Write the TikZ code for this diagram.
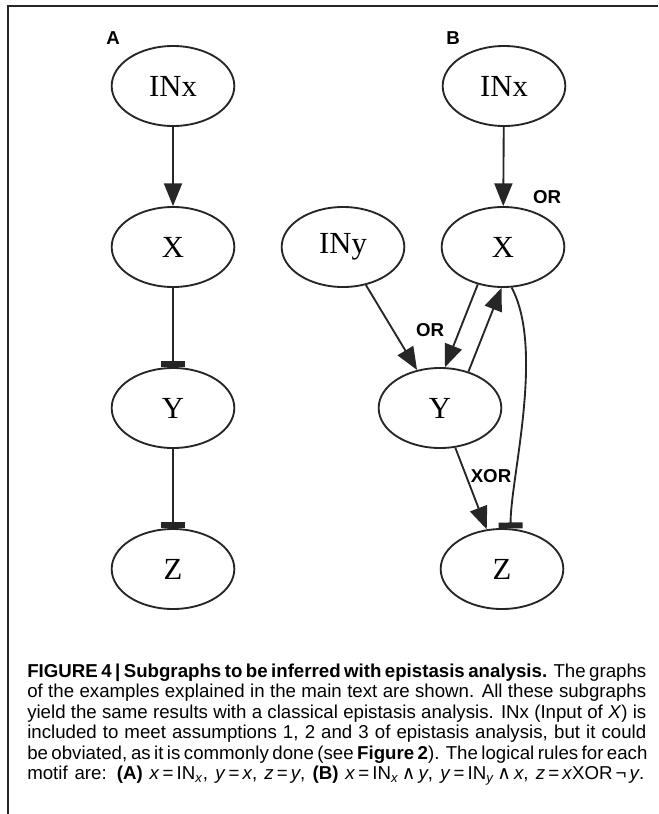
\documentclass[tikz,border=0pt]{standalone}
\usepackage{fontspec}
\setmainfont{Liberation Sans}
\newfontfamily\serifnode{Liberation Serif}
\newfontfamily\djv{DejaVu Sans}
\usetikzlibrary{arrows.meta,shapes.geometric}
\begin{document}
\begin{tikzpicture}[x=0.75pt,y=-0.75pt,
  gnode/.style={draw=black!85, line width=1.4pt, ellipse, minimum width=92pt, minimum height=60pt, inner sep=0pt, font=\serifnode\fontsize{23}{23}\selectfont},
  act/.style={line width=1.4pt, draw=black!85, -{Triangle[length=17pt,width=13.5pt]}},
  inh/.style={line width=1.4pt, draw=black!85, -{Bar[width=18pt,line width=4.5pt]}},
  elab/.style={font=\bfseries\fontsize{14}{14}\selectfont, inner sep=0pt},
  panel/.style={font=\bfseries\fontsize{14}{14}\selectfont, inner sep=0pt},
  capline/.style={anchor=base west, inner sep=0pt, font=\fontsize{14}{15}\selectfont}
]
\useasboundingbox (0,0) rectangle (658,814);
\draw[line width=1pt, black!85] (8,814) -- (8,6) -- (658,6);

% panel labels
\node[panel] (lA) at (113,38) {A};
\node[panel] (lB) at (453,38) {B};

% panel A
\node[gnode] (INxA) at (173,86) {INx};
\node[gnode] (XA) at (173,247) {X};
\node[gnode] (YA) at (173,408) {Y};
\node[gnode] (ZA) at (173,569) {Z};
\draw[act] (INxA) -- (XA);
\draw[inh] (XA) -- (YA);
\draw[inh] (YA) -- (ZA);

% panel B
\node[gnode] (INxB) at (504,86) {INx};
\node[gnode] (XB) at (503,247) {X};
\node[gnode] (INyB) at (343,247) {INy};
\node[gnode] (YB) at (440,408) {Y};
\node[gnode] (ZB) at (502,569) {Z};
\draw[act] (INxB) -- (XB);
\draw[act] (INyB) -- (YB);
\draw[act] (XB.236) -- (YB.83);
\draw[act] (YB.52) -- (XB.268);
\draw[act] (YB) -- (ZB);
\draw[inh] (XB.-78) .. controls (545,350) and (510,480) .. (ZB.78);

\node[elab] (or1) at (547,197) {OR};
\node[elab] (or2) at (430,330) {OR};
\node[elab] (xor) at (491,476) {XOR};

% caption
\node[capline] (c1) at (27,677) {\hbox to 464.25pt{\textbf{FIGURE 4 | Subgraphs to be inferred with epistasis analysis.} The graphs}};
\node[capline] (c2) at (27,697.5) {\hbox to 464.25pt{of the examples explained in the main text are shown. All these subgraphs}};
\node[capline] (c3) at (27,718) {\hbox to 464.25pt{yield the same results with a classical epistasis analysis. INx (Input of \textit{X}) is}};
\node[capline] (c4) at (27,738.5) {\hbox to 464.25pt{included to meet assumptions 1, 2 and 3 of epistasis analysis, but it could}};
\node[capline] (c5) at (27,759) {\hbox to 464.25pt{be obviated, as it is commonly done (see \textbf{Figure 2}). The logical rules for each}};
\node[capline] (c6) at (27,779.5) {\hbox to 462.75pt{motif are: \textbf{(A)} \textit{x}\,=\,IN\textsubscript{\textit{x}}, \textit{y}\,=\,\textit{x}, \textit{z}\,=\,\textit{y}, \textbf{(B)} \textit{x}\,=\,IN\textsubscript{\textit{x}}\,{\djv ∧}\,\textit{y}, \textit{y}\,=\,IN\textsubscript{\textit{y}}\,{\djv ∧}\,\textit{x}, \textit{z}\,=\,\textit{x}XOR\,¬\,\textit{y}.}};
\end{tikzpicture}
\end{document}
